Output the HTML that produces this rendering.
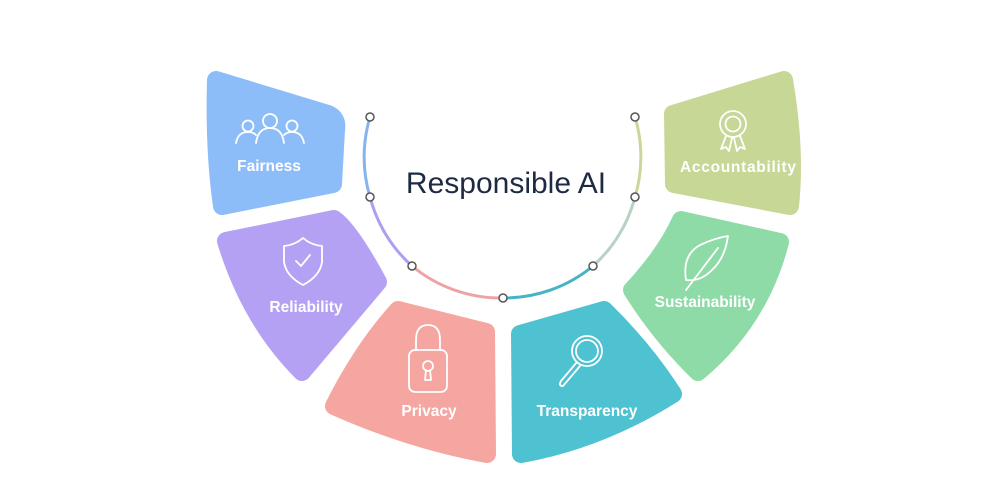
<!DOCTYPE html>
<html><head><meta charset="utf-8"><style>
html,body{margin:0;padding:0;background:#fff;}
svg{display:block}
text{font-family:"Liberation Sans",sans-serif;}
</style></head><body>
<svg width="1000" height="500" viewBox="0 0 1000 500" xmlns="http://www.w3.org/2000/svg">
<g stroke-linejoin="round" stroke-width="18">
<path d="M216,80 L328,114 Q338,118 336,130 L333,184 L222,206 Q214,150 216,80Z" fill="#8dbdf8" stroke="#8dbdf8"/>
<path d="M226,241 L334,219 Q350,230 378,282 L302,372 Q250,320 226,241Z" fill="#b5a1f4" stroke="#b5a1f4"/>
<path d="M398,310 L486,332 L487,454 Q410,440 334,406 Q362,350 398,310Z" fill="#f5a6a1" stroke="#f5a6a1"/>
<path d="M520,334 L604,310 Q645,350 673,394 Q600,440 521,454Z" fill="#4fc2d1" stroke="#4fc2d1"/>
<path d="M681,220 L780,242 Q760,320 698,372 Q660,335 632,290 Q665,255 681,220Z" fill="#8edba7" stroke="#8edba7"/>
<path d="M673,114 L784,80 Q796,150 790,206 L674,184Z" fill="#c6d796" stroke="#c6d796"/>
</g>
<g fill="none" stroke-width="3">
<path d="M370,117 A139.4,139.4 0 0 0 370,197" stroke="#86b4ec"/>
<path d="M370,197 A139.4,139.4 0 0 0 412,266" stroke="#a9a0ee"/>
<path d="M412,266 A139.4,139.4 0 0 0 503,298" stroke="#eda3a6"/>
<path d="M503,298 A139.4,139.4 0 0 0 593,266" stroke="#45b5c4"/>
<path d="M593,266 A139.4,139.4 0 0 0 635,197" stroke="#b6d2c2"/>
<path d="M635,197 A139.4,139.4 0 0 0 635,117" stroke="#c9d799"/>
</g>
<g fill="#fff" stroke="#555" stroke-width="1.5">
<circle cx="370" cy="117" r="4"/><circle cx="370" cy="197" r="4"/><circle cx="412" cy="266" r="4"/>
<circle cx="503" cy="298" r="4"/><circle cx="593" cy="266" r="4"/><circle cx="635" cy="197" r="4"/><circle cx="635" cy="117" r="4"/>
</g>
<text x="506" y="193" font-size="30" fill="#1e2a44" text-anchor="middle">Responsible AI</text>
<g fill="#fff" font-weight="bold" font-size="15.5" text-anchor="middle">
<text x="269" y="171">Fairness</text>
<text x="306" y="312">Reliability</text>
<text x="429" y="416">Privacy</text>
<text x="587" y="416">Transparency</text>
<text x="705" y="307">Sustainability</text>
<text x="738" y="172" textLength="116">Accountability</text>
</g>
<g fill="none" stroke="#fff" stroke-width="1.8" stroke-linecap="round" stroke-linejoin="round">
<circle cx="270" cy="121" r="7"/><path d="M256,143 Q258,128 270,128 Q282,128 284,143"/>
<circle cx="248" cy="126" r="5.5"/><path d="M236,143 Q238,132 248,132 Q253,132 256,135"/>
<circle cx="292" cy="126" r="5.5"/><path d="M304,143 Q302,132 292,132 Q287,132 284,135"/>
<path d="M303,238 Q295,245 284,246 L284,262 Q286,276 303,285 Q320,276 322,262 L322,246 Q311,245 303,238Z"/>
<path d="M296,261 L301,266 L310,255"/>
<path d="M416,350 L416,340 Q416,325 428,325 Q440,325 440,340 L440,350"/>
<rect x="409" y="350" width="38" height="42" rx="6"/>
<circle cx="428" cy="366" r="5"/><path d="M426,370 L425,380 L431,380 L430,370"/>
<circle cx="587" cy="351" r="15"/><circle cx="587" cy="351" r="11"/>
<path d="M577,362 L561,381 Q558,386 563,386 L580,366"/>
<path d="M686,280 Q682,255 700,245 Q715,238 728,236 Q725,258 712,270 Q700,282 686,280Z"/>
<path d="M686,290 L718,248"/>
<circle cx="733" cy="124" r="13"/><circle cx="733" cy="124" r="7.5"/>
<path d="M726,136 L721,149 L726,147 L729,151 L732,138"/>
<path d="M740,136 L745,149 L740,147 L737,151 L734,138"/>
</g>
</svg>
</body></html>
